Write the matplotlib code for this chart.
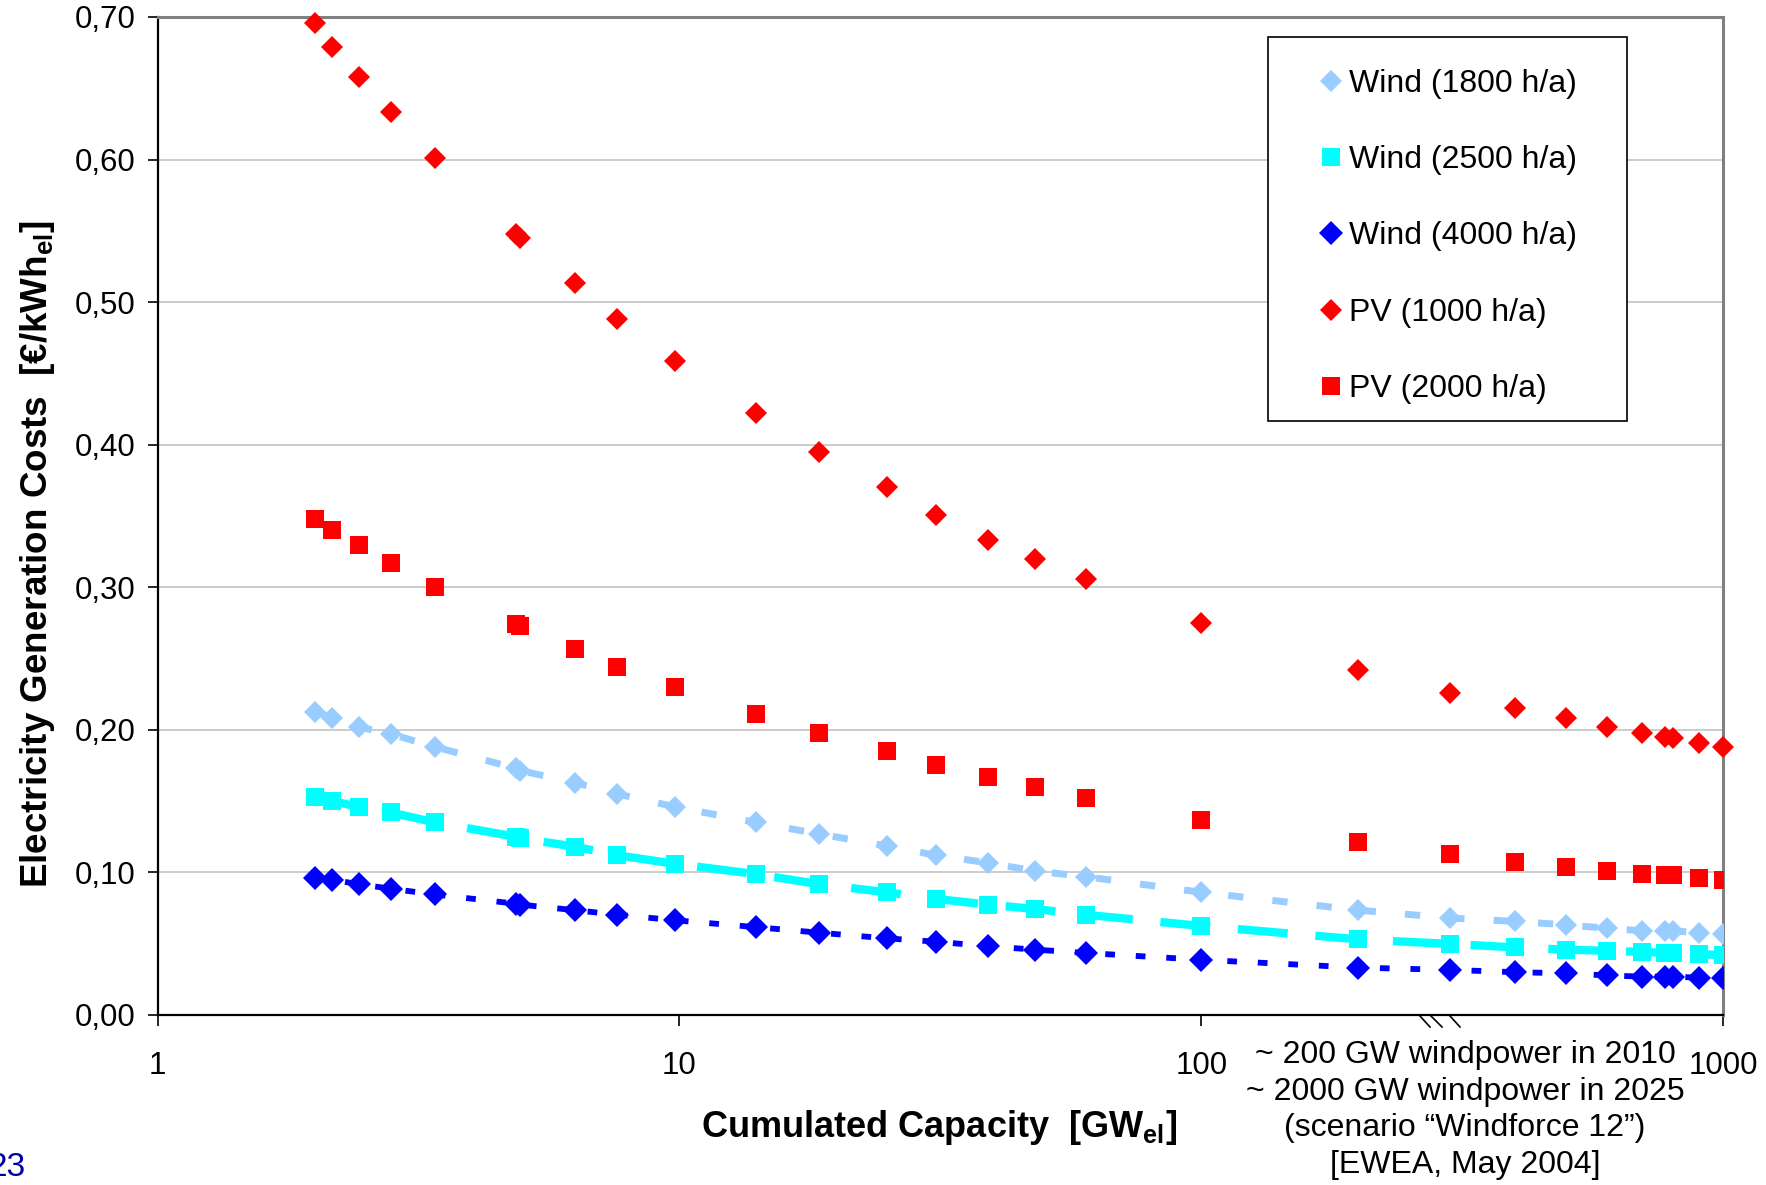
import matplotlib
matplotlib.use('Agg')
import matplotlib.pyplot as plt
import numpy as np
from matplotlib.lines import Line2D
from matplotlib.patches import Rectangle
from matplotlib.ticker import FixedLocator, NullLocator

plt.rcParams['font.family'] = ['Liberation Sans', 'DejaVu Sans']
plt.rcParams['mathtext.fontset'] = 'custom'
plt.rcParams['mathtext.rm'] = 'Liberation Sans'
plt.rcParams['mathtext.bf'] = 'Liberation Sans:bold'
plt.rcParams['lines.scale_dashes'] = False

# cumulated capacity [GW_el]
capacity = [2, 2.16, 2.43, 2.8, 3.4, 4.86, 4.95, 6.3, 7.6, 9.8, 14, 18.5, 25, 31,
            39, 48, 60, 100, 200, 300, 400, 500, 600, 700, 775, 800, 900, 1000]

# electricity generation costs [EUR/kWh_el]
wind_1800 = [0.2125, 0.2086, 0.202, 0.197, 0.188, 0.173, 0.1714, 0.163, 0.155, 0.146,
             0.135, 0.127, 0.1185, 0.112, 0.1067, 0.101, 0.097, 0.086, 0.0735, 0.068,
             0.0656, 0.0632, 0.0608, 0.059, 0.059, 0.059, 0.0577, 0.0569]
wind_2500 = [0.153, 0.150, 0.146, 0.142, 0.135, 0.125, 0.124, 0.118, 0.112, 0.106,
             0.0988, 0.0917, 0.086, 0.0814, 0.0774, 0.0743, 0.0703, 0.0624, 0.053, 0.0498,
             0.0474, 0.0458, 0.045, 0.0442, 0.0435, 0.0435, 0.0427, 0.0419]
wind_4000 = [0.0964, 0.0948, 0.0917, 0.0885, 0.0845, 0.078, 0.0774, 0.0735, 0.0703, 0.0664,
             0.0616, 0.0577, 0.0537, 0.0514, 0.0482, 0.0458, 0.0435, 0.0387, 0.0332, 0.0316,
             0.030, 0.0292, 0.0277, 0.0269, 0.0269, 0.0269, 0.0261, 0.0261]
pv_1000 = [0.696, 0.679, 0.658, 0.633, 0.601, 0.5475, 0.545, 0.5135, 0.488, 0.459,
           0.422, 0.395, 0.370, 0.351, 0.333, 0.320, 0.306, 0.275, 0.242, 0.226,
           0.215, 0.2086, 0.202, 0.1975, 0.195, 0.1944, 0.191, 0.188]
pv_2000 = [0.348, 0.340, 0.3295, 0.317, 0.300, 0.274, 0.2725, 0.257, 0.244, 0.230,
           0.211, 0.1975, 0.185, 0.175, 0.167, 0.160, 0.152, 0.137, 0.121, 0.113,
           0.107, 0.104, 0.101, 0.099, 0.098, 0.098, 0.0964, 0.0948]

yticks = [0.0, 0.1, 0.2, 0.3, 0.4, 0.5, 0.6, 0.7]
xticks = [1, 10, 100, 1000]

fig = plt.figure(figsize=(17.66, 11.85), dpi=100)
ax = fig.add_axes([0.0893, 0.1435, 0.8864, 0.8422])
ax.set_xscale('log')

# dashed trend lines of the wind series
ax.plot(capacity, wind_1800, color='#99CCFF', lw=5, ls=(0, (11, 21)), zorder=2)
ax.plot(capacity, wind_2500, color='#00FFFF', lw=6, ls=(0, (36, 20)), zorder=2)
ax.plot(capacity, wind_4000, color='#0000FF', lw=4.2, ls=(0, (7, 15)), zorder=2)

# markers
ax.plot(capacity, wind_1800, 'D', color='#99CCFF', ms=11.5, mew=0, label='Wind (1800 h/a)', zorder=3)
ax.plot(capacity, wind_2500, 's', color='#00FFFF', ms=12.5, mew=0, label='Wind (2500 h/a)', zorder=3)
ax.plot(capacity, wind_4000, 'D', color='#0000FF', ms=12.5, mew=0, label='Wind (4000 h/a)', zorder=3)
ax.plot(capacity, pv_1000, 'D', color='#FF0000', ms=11.5, mew=0, label='PV (1000 h/a)', zorder=3, clip_on=False)
ax.plot(capacity, pv_2000, 's', color='#FF0000', ms=12.5, mew=0, label='PV (2000 h/a)', zorder=3)

ax.set_xlim(1, 1000)
ax.set_ylim(0, 0.70)

ax.yaxis.set_major_locator(FixedLocator(yticks))
ax.set_yticklabels([f"{v:.2f}".replace('.', ',') for v in yticks])
ax.xaxis.set_major_locator(FixedLocator(xticks))
ax.xaxis.set_minor_locator(NullLocator())
ax.set_xticklabels([str(v) for v in xticks])
ax.tick_params(axis='y', labelsize=22.5, length=7, width=1.2, pad=9, direction='out')
ax.tick_params(axis='x', labelsize=22.5, length=8, width=1.2, pad=18, direction='out')

ax.grid(axis='y', color='#C8C8C8', lw=1.3)
ax.set_axisbelow(True)

for side in ['left', 'bottom']:
    ax.spines[side].set_color('black')
    ax.spines[side].set_linewidth(1.6)
for side in ['top', 'right']:
    ax.spines[side].set_color('#808080')
    ax.spines[side].set_linewidth(2.2)

ax.set_ylabel(r'Electricity Generation Costs  [€/kWh$_{\mathbf{el}}$]',
              fontsize=26.5, fontweight='bold', va='center')
ax.yaxis.set_label_coords(-0.077, 0.462)
ax.set_xlabel(r'Cumulated Capacity  [GW$_{\mathbf{el}}$]',
              fontsize=26, fontweight='bold', va='center')
ax.xaxis.set_label_coords(0.499, -0.113)

# legend with its own frame box
box = Rectangle((0.709, 0.595), 0.2297, 0.385, transform=ax.transAxes,
                facecolor='white', edgecolor='black', lw=1.2, zorder=4)
ax.add_patch(box)
leg = ax.legend(loc='upper left', bbox_to_anchor=(0.709, 0.980), borderaxespad=0,
                frameon=False, fontsize=23, numpoints=1, borderpad=1.0,
                labelspacing=1.45, handlelength=2.0, handletextpad=-0.45)
leg.set_zorder(5)

# axis break marks
for x0, x1 in [(1420, 1430), (1431, 1442), (1450, 1460)]:
    fig.add_artist(Line2D([x0 / 1766, x1 / 1766], [1 - 1016 / 1185, 1 - 1027 / 1185],
                          color='black', lw=1.2))

fig.text(1465 / 1766, 1 - 1110 / 1185,
         '~ 200 GW windpower in 2010\n~ 2000 GW windpower in 2025\n'
         '(scenario \u201cWindforce 12\u201d)\n[EWEA, May 2004]',
         ha='center', va='center', multialignment='center', fontsize=23, linespacing=1.28)

fig.text(25 / 1766, 1 - 1167 / 1185, '23', ha='right', va='center', fontsize=24, color='#0000A0')

fig.savefig('out.png', dpi=100)
